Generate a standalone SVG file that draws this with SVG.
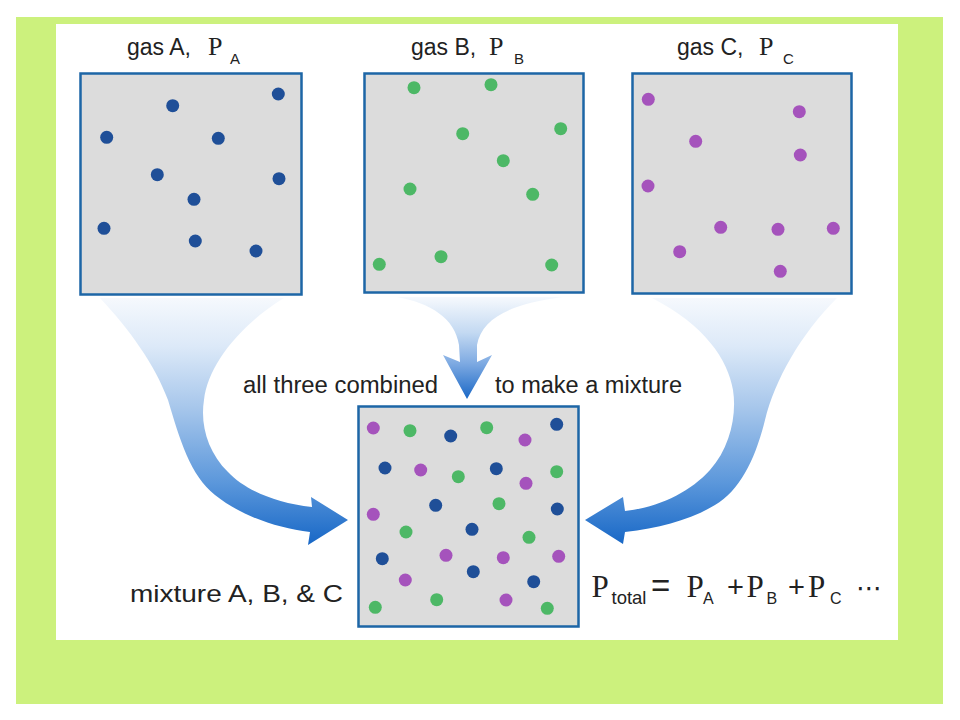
<svg xmlns="http://www.w3.org/2000/svg" width="960" height="720" viewBox="0 0 960 720">
<style>
.box{fill:#dcdcdc;stroke:#1d66a6;stroke-width:2.5}
.a{fill:#1f4f98}
.b{fill:#4db866}
.c{fill:#a553bc}
.sans{font-family:"Liberation Sans",Arial,sans-serif;fill:#222222}
.serif{font-family:"Liberation Serif","Times New Roman",serif;fill:#222222}
</style>
<defs>
<linearGradient id="gSide" gradientUnits="userSpaceOnUse" x1="0" y1="297" x2="0" y2="545">
<stop offset="0" stop-color="#f6f9fd"/>
<stop offset="0.2" stop-color="#dce9f8"/>
<stop offset="0.45" stop-color="#a6c6eb"/>
<stop offset="0.75" stop-color="#5b97db"/>
<stop offset="1" stop-color="#1767c6"/>
</linearGradient>
<linearGradient id="gMid" gradientUnits="userSpaceOnUse" x1="0" y1="297" x2="0" y2="399">
<stop offset="0" stop-color="#f6f9fd"/>
<stop offset="0.35" stop-color="#c3d9f2"/>
<stop offset="0.65" stop-color="#7eaae2"/>
<stop offset="1" stop-color="#1a68c6"/>
</linearGradient>
</defs>
<rect x="16" y="17" width="927" height="687" fill="#ccf17d"/>
<rect x="56" y="24" width="842" height="616" fill="#ffffff"/>
<g id="connectors">
<path fill="url(#gSide)" d="M100,298 C130,330 155,365 168,400 C180,440 190,475 215,495 C240,515 275,528 310,532 L308,545 L348,520 L311,497 L312,507 C275,503 245,490 228,472 C208,452 200,425 204,400 C208,365 240,325 284,298 Z"/>
<path fill="url(#gMid)" d="M397,297 C430,303 455,318 459,345 L460,362 L443,355 L467,399 L492,355 L477,362 L477,345 C482,318 510,304 563,297 Z"/>
<path fill="url(#gSide)" d="M837,298 C800,335 775,380 765,420 C755,460 740,490 715,505 C690,520 660,528 625,532 L623,544 L585,520 L623,497 L625,511 C660,507 690,492 710,470 C730,448 737,415 733,390 C728,360 705,325 652,298 Z"/>
</g>
<g id="gasA">
<rect class="box" x="80.5" y="73.5" width="221" height="221"/>
<circle class="a" cx="278.3" cy="94" r="6.5"/>
<circle class="a" cx="172.7" cy="105.7" r="6.5"/>
<circle class="a" cx="106.7" cy="137.3" r="6.5"/>
<circle class="a" cx="218.3" cy="138.3" r="6.5"/>
<circle class="a" cx="157.3" cy="174.7" r="6.5"/>
<circle class="a" cx="279" cy="178.7" r="6.5"/>
<circle class="a" cx="194" cy="199.3" r="6.5"/>
<circle class="a" cx="104" cy="228.3" r="6.5"/>
<circle class="a" cx="195.3" cy="241" r="6.5"/>
<circle class="a" cx="256" cy="251" r="6.5"/>
<text class="sans" x="127" y="55" font-size="23">gas A,</text>
<text class="serif" x="208" y="55" font-size="26">P</text>
<text class="sans" x="230" y="64" font-size="15">A</text>
</g>
<g id="gasB">
<rect class="box" x="364.5" y="73.5" width="219" height="219"/>
<circle class="b" cx="414" cy="87.7" r="6.5"/>
<circle class="b" cx="491" cy="84.7" r="6.5"/>
<circle class="b" cx="462.7" cy="133.7" r="6.5"/>
<circle class="b" cx="560.7" cy="128.7" r="6.5"/>
<circle class="b" cx="503.3" cy="160.7" r="6.5"/>
<circle class="b" cx="410" cy="189" r="6.5"/>
<circle class="b" cx="532.7" cy="194.3" r="6.5"/>
<circle class="b" cx="379.3" cy="264.3" r="6.5"/>
<circle class="b" cx="441" cy="256.7" r="6.5"/>
<circle class="b" cx="551.7" cy="265" r="6.5"/>
<text class="sans" x="411" y="55" font-size="23">gas B,</text>
<text class="serif" x="489" y="55" font-size="26">P</text>
<text class="sans" x="514" y="64" font-size="15">B</text>
</g>
<g id="gasC">
<rect class="box" x="632.5" y="73.5" width="219" height="220"/>
<circle class="c" cx="648.3" cy="99.3" r="6.5"/>
<circle class="c" cx="799.3" cy="111.7" r="6.5"/>
<circle class="c" cx="695.7" cy="141.3" r="6.5"/>
<circle class="c" cx="800.3" cy="155" r="6.5"/>
<circle class="c" cx="648" cy="186" r="6.5"/>
<circle class="c" cx="720.7" cy="227.3" r="6.5"/>
<circle class="c" cx="778" cy="229.3" r="6.5"/>
<circle class="c" cx="833.3" cy="228.3" r="6.5"/>
<circle class="c" cx="679.7" cy="251.7" r="6.5"/>
<circle class="c" cx="780.3" cy="271.3" r="6.5"/>
<text class="sans" x="677" y="55" font-size="23">gas C,</text>
<text class="serif" x="759" y="55" font-size="26">P</text>
<text class="sans" x="783" y="64" font-size="15">C</text>
</g>
<g id="mixture">
<rect class="box" x="358.5" y="406.5" width="220" height="220"/>
<circle class="c" cx="373.3" cy="428" r="6.5"/>
<circle class="c" cx="525" cy="440" r="6.5"/>
<circle class="c" cx="420.7" cy="470" r="6.5"/>
<circle class="c" cx="526" cy="483.3" r="6.5"/>
<circle class="c" cx="373.3" cy="514.3" r="6.5"/>
<circle class="c" cx="446" cy="555.3" r="6.5"/>
<circle class="c" cx="503.3" cy="557.7" r="6.5"/>
<circle class="c" cx="558.7" cy="556.3" r="6.5"/>
<circle class="c" cx="405.3" cy="580" r="6.5"/>
<circle class="c" cx="506" cy="600" r="6.5"/>
<circle class="b" cx="410" cy="430.7" r="6.5"/>
<circle class="b" cx="486.7" cy="427.7" r="6.5"/>
<circle class="b" cx="458.3" cy="476.7" r="6.5"/>
<circle class="b" cx="556.7" cy="471.7" r="6.5"/>
<circle class="b" cx="499" cy="503.7" r="6.5"/>
<circle class="b" cx="406" cy="532" r="6.5"/>
<circle class="b" cx="529" cy="537.3" r="6.5"/>
<circle class="b" cx="436.7" cy="599.7" r="6.5"/>
<circle class="b" cx="375.3" cy="607.3" r="6.5"/>
<circle class="b" cx="547.3" cy="608.3" r="6.5"/>
<circle class="a" cx="450.7" cy="436" r="6.5"/>
<circle class="a" cx="556.7" cy="424.3" r="6.5"/>
<circle class="a" cx="385" cy="468" r="6.5"/>
<circle class="a" cx="496.3" cy="468.7" r="6.5"/>
<circle class="a" cx="435.7" cy="505.3" r="6.5"/>
<circle class="a" cx="557.3" cy="509" r="6.5"/>
<circle class="a" cx="472" cy="529.3" r="6.5"/>
<circle class="a" cx="382.3" cy="558.7" r="6.5"/>
<circle class="a" cx="473.3" cy="571.7" r="6.5"/>
<circle class="a" cx="533.7" cy="581.7" r="6.5"/>
<text class="sans" x="130" y="602" font-size="24" textLength="213" lengthAdjust="spacingAndGlyphs">mixture A, B, &amp; C</text>
</g>
<g id="labels">
<text class="sans" x="243" y="393" font-size="23.5" textLength="195" lengthAdjust="spacingAndGlyphs">all three combined</text>
<text class="sans" x="495" y="393" font-size="23.5" textLength="187" lengthAdjust="spacingAndGlyphs">to make a mixture</text>
</g>
<g id="formula">
<text class="serif" x="591.5" y="597" font-size="31">P</text>
<text class="sans" x="611.5" y="604" font-size="18.5">total</text>
<text class="sans" x="651" y="597" font-size="33">=</text>
<text class="serif" x="686.5" y="597" font-size="31">P</text>
<text class="sans" x="703" y="604" font-size="16">A</text>
<text class="sans" x="727" y="597" font-size="29">+</text>
<text class="serif" x="746.5" y="597" font-size="31">P</text>
<text class="sans" x="766.5" y="604" font-size="16">B</text>
<text class="sans" x="788" y="597" font-size="29">+</text>
<text class="serif" x="808" y="597" font-size="31">P</text>
<text class="sans" x="830" y="604" font-size="16">C</text>
<text x="856" y="597" font-size="26" font-family="DejaVu Sans, sans-serif" fill="#222222">⋯</text>
</g>
</svg>
